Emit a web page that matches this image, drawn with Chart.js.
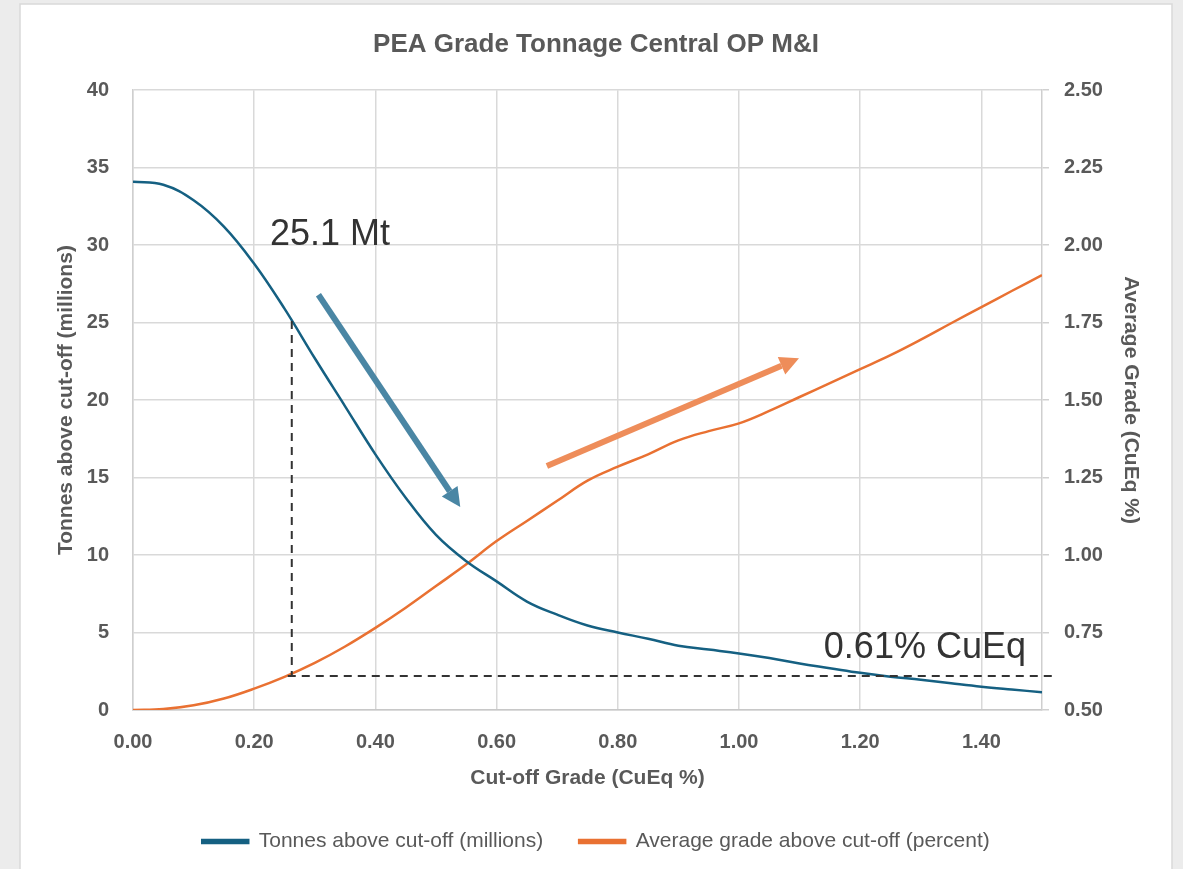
<!DOCTYPE html>
<html>
<head>
<meta charset="utf-8">
<script src="https://cdn.jsdelivr.net/npm/chart.js@4.4.1/dist/chart.umd.min.js"></script>
<style>
  html, body { margin: 0; padding: 0; background: #ececec; }
  #wrap { width: 1183px; height: 869px; }
</style>
</head>
<body>
<div id="wrap"><canvas id="gtChart"></canvas></div>
<script>
// cut-off grade (CuEq %)
const cutoff = [0.00, 0.05, 0.10, 0.15, 0.20, 0.25, 0.30, 0.35, 0.40, 0.45,
  0.50, 0.55, 0.60, 0.65, 0.70, 0.75, 0.80, 0.85, 0.90, 0.95,
  1.00, 1.05, 1.10, 1.15, 1.20, 1.25, 1.30, 1.35, 1.40, 1.45, 1.50];
// tonnes above cut-off (millions)
const tonnes = [34.1, 33.9, 32.9, 31.2, 28.8, 25.9, 22.7, 19.6, 16.5, 13.7,
  11.3, 9.6, 8.3, 7.0, 6.15, 5.45, 5.0, 4.6, 4.15, 3.9,
  3.65, 3.35, 3.0, 2.7, 2.4, 2.15, 1.95, 1.72, 1.5, 1.32, 1.15];
// average grade above cut-off (percent)
const grade = [0.50, 0.503, 0.515, 0.537, 0.569, 0.607, 0.652, 0.705, 0.765, 0.83,
  0.90, 0.97, 1.045, 1.11, 1.175, 1.24, 1.285, 1.325, 1.37, 1.40,
  1.425, 1.465, 1.51, 1.555, 1.60, 1.645, 1.695, 1.748, 1.80, 1.852, 1.903];

const seriesNames = ["Tonnes above cut-off (millions)", "Average grade above cut-off (percent)"];
const chartTitle = "PEA Grade Tonnage Central OP M&I";

// annotation anchors, in data units
const cutPoint = { x: 0.262, tonnes: 25.1, grade: 0.61, xEnd: 1.517 };
const blueArrow = { x1: 0.306, y1: 26.8, x2: 0.540, y2: 13.1 };
const orangeArrow = { x1: 0.683, y1: 1.287, x2: 1.099, y2: 1.635 };
const labelTonnes = { text: "25.1 Mt", x: 0.226, y: 30.0 };
const labelGrade = { text: "0.61% CuEq", x: 1.140, y: 0.668 };

const BLUE = "#156082";
const ORANGE = "#e97132";
const GREY = "#595959";
const FONT = "'Liberation Sans', Arial, sans-serif";

function drawArrow(ctx, x1, y1, x2, y2, color, width, headLen, headW) {
  const ang = Math.atan2(y2 - y1, x2 - x1);
  const bx = x2 - headLen * Math.cos(ang);
  const by = y2 - headLen * Math.sin(ang);
  ctx.save();
  ctx.strokeStyle = color;
  ctx.fillStyle = color;
  ctx.lineWidth = width;
  ctx.beginPath();
  ctx.moveTo(x1, y1);
  ctx.lineTo(bx, by);
  ctx.stroke();
  ctx.beginPath();
  ctx.moveTo(x2, y2);
  ctx.lineTo(bx + headW / 2 * Math.sin(ang), by - headW / 2 * Math.cos(ang));
  ctx.lineTo(bx - headW / 2 * Math.sin(ang), by + headW / 2 * Math.cos(ang));
  ctx.closePath();
  ctx.fill();
  ctx.restore();
}

const panelPlugin = {
  id: "panel",
  beforeDraw(chart) {
    const ctx = chart.ctx;
    ctx.save();
    ctx.fillStyle = "#ececec";
    ctx.fillRect(0, 0, chart.width, chart.height);
    ctx.fillStyle = "#ffffff";
    ctx.fillRect(20, 4, 1152, chart.height);
    ctx.strokeStyle = "#d9d9d9";
    ctx.lineWidth = 1.5;
    ctx.strokeRect(20, 4, 1152, chart.height + 10);
    ctx.restore();
  },
  afterDraw(chart) {
    const ctx = chart.ctx;
    const sx = chart.scales.x, sy = chart.scales.y, sg = chart.scales.y1;
    ctx.save();
    // dashed cut-off guides
    ctx.strokeStyle = "#333333";
    ctx.lineWidth = 2;
    ctx.setLineDash([8, 6]);
    const px = sx.getPixelForValue(cutPoint.x);
    const pyG = sg.getPixelForValue(cutPoint.grade);
    ctx.beginPath();
    ctx.moveTo(px, sy.getPixelForValue(cutPoint.tonnes));
    ctx.lineTo(px, pyG);
    ctx.stroke();
    ctx.beginPath();
    ctx.moveTo(px - 4, pyG);
    ctx.lineTo(sx.getPixelForValue(cutPoint.xEnd), pyG);
    ctx.stroke();
    ctx.setLineDash([]);
    // arrows
    drawArrow(ctx, sx.getPixelForValue(blueArrow.x1), sy.getPixelForValue(blueArrow.y1),
      sx.getPixelForValue(blueArrow.x2), sy.getPixelForValue(blueArrow.y2), "#4a86a4", 6, 19, 19);
    drawArrow(ctx, sx.getPixelForValue(orangeArrow.x1), sg.getPixelForValue(orangeArrow.y1),
      sx.getPixelForValue(orangeArrow.x2), sg.getPixelForValue(orangeArrow.y2), "#ee8d5a", 6, 19, 19);
    // labels
    ctx.fillStyle = "#333333";
    ctx.font = "36px " + FONT;
    ctx.textBaseline = "alphabetic";
    ctx.textAlign = "left";
    ctx.fillText(labelTonnes.text, sx.getPixelForValue(labelTonnes.x), sy.getPixelForValue(labelTonnes.y));
    ctx.fillText(labelGrade.text, sx.getPixelForValue(labelGrade.x), sg.getPixelForValue(labelGrade.y));
    ctx.restore();
  }
};

const tonnesPoints = cutoff.map((c, i) => ({ x: c, y: tonnes[i] }));
const gradePoints = cutoff.map((c, i) => ({ x: c, y: grade[i] }));

const tickFont = { family: FONT, size: 20, weight: "bold" };
const axisTitleFont = { family: FONT, size: 21, weight: "bold" };

new Chart("gtChart", {
  type: "line",
  data: {
    datasets: [
      {
        label: seriesNames[0],
        data: tonnesPoints,
        borderColor: BLUE,
        backgroundColor: BLUE,
        borderWidth: 2.5,
        pointRadius: 0,
        tension: 0.4,
        yAxisID: "y",
      },
      {
        label: seriesNames[1],
        data: gradePoints,
        borderColor: ORANGE,
        backgroundColor: ORANGE,
        borderWidth: 2.5,
        pointRadius: 0,
        tension: 0.4,
        yAxisID: "y1",
      },
    ],
  },
  options: {
    responsive: true,
    maintainAspectRatio: false,
    animation: false,
    layout: { padding: { left: 20, right: 11, top: 0, bottom: 7 } },
    plugins: {
      title: {
        display: true,
        text: chartTitle,
        color: GREY,
        font: { family: FONT, size: 26, weight: "bold" },
        padding: { top: 29, bottom: 30 },
      },
      legend: {
        position: "bottom",
        labels: {
          color: GREY,
          font: { family: FONT, size: 21 },
          boxWidth: 46,
          boxHeight: 3,
          padding: 36,
        },
      },
      tooltip: { enabled: false },
    },
    scales: {
      x: {
        type: "linear",
        min: 0,
        max: 1.5,
        ticks: {
          stepSize: 0.2,
          color: GREY,
          font: tickFont,
          padding: 20,
          callback: (v) => v.toFixed(2),
        },
        afterBuildTicks: (s) => { s.ticks = s.ticks.filter((t) => t.value < 1.45); },
        afterFit: (s) => { s.height = 85; },
        grid: { color: "#d9d9d9", lineWidth: 1.5, drawTicks: false },
        border: { color: "#c8c8c8", width: 1.5 },
        title: {
          display: true,
          text: "Cut-off Grade (CuEq %)",
          color: GREY,
          font: axisTitleFont,
          padding: { top: 0, bottom: 4 },
        },
      },
      y: {
        position: "left",
        min: 0,
        max: 40,
        ticks: { stepSize: 5, color: GREY, font: tickFont, padding: 24 },
        afterFit: (s) => { s.width = 113; },
        grid: { color: "#d9d9d9", lineWidth: 1.5, drawTicks: false },
        border: { color: "#cfcfcf", width: 1.5 },
        title: {
          display: true,
          text: "Tonnes above cut-off (millions)",
          color: GREY,
          font: axisTitleFont,
          padding: { top: 34, bottom: 0 },
        },
      },
      y1: {
        position: "right",
        min: 0.5,
        max: 2.5,
        ticks: {
          stepSize: 0.25,
          color: GREY,
          font: tickFont,
          padding: 15,
          callback: (v) => v.toFixed(2),
        },
        afterFit: (s) => { s.width = 130; },
        grid: { drawOnChartArea: false, color: "#d0d0d0", lineWidth: 1.5, tickLength: 7 },
        border: { color: "#cfcfcf", width: 1.5 },
        title: {
          display: true,
          text: "Average Grade (CuEq %)",
          color: GREY,
          font: axisTitleFont,
          padding: { top: 29, bottom: 0 },
        },
      },
    },
  },
  plugins: [panelPlugin],
});
</script>
</body>
</html>
